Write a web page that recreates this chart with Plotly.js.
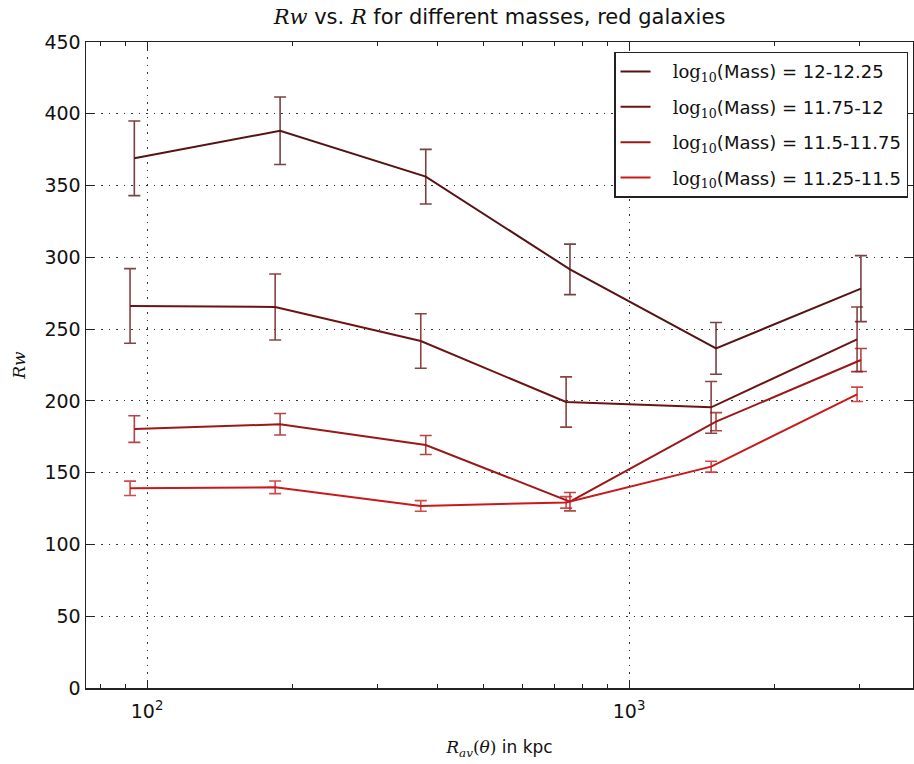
<!DOCTYPE html>
<html>
<head>
<meta charset="utf-8">
<script src="https://cdn.plot.ly/plotly-3.0.1.min.js"></script>
<style>html,body{margin:0;padding:0;background:#fff;}#chart{width:914px;height:764px;}</style>
</head>
<body>
<div id="chart"></div>
<script>
// Data
const seriesNames = ["12-12.25", "11.75-12", "11.5-11.75", "11.25-11.5"];
const xA = [94.1, 188.8, 378.6, 754, 1515, 3027];
const xB = [92.2, 184.4, 369.7, 740.3, 1480, 2972];
const rw1 = [369, 388.2, 356.2, 291.6, 236.6, 278.2];
const err1 = [26, 23.5, 19, 17.6, 18, 23];
const rw2 = [266.1, 265.4, 241.7, 199.2, 195.5, 242.9];
const err2 = [26, 23, 19, 17.5, 18, 22.5];
const rw3 = [180.4, 183.7, 169.3, 129.8, 185.5, 228.5];
const err3 = [9.3, 7.5, 6.6, 6.4, 6.3, 8];
const rw4 = [139.1, 139.8, 126.8, 129.3, 154.2, 204.6];
const err4 = [5, 4.4, 3.7, 4, 3.8, 5];
const colors = ["#561313", "#6c1414", "#9c1818", "#c81a1a"];
const errColors = ["rgba(86,19,19,0.8)", "rgba(108,20,20,0.8)", "rgba(156,24,24,0.8)", "rgba(200,26,26,0.8)"];
const xTickVals = [100, 1000];
const xTickText = ["10<sup>2</sup>", "10<sup>3</sup>"];
const xMinorVals = [80, 90, 200, 300, 400, 500, 600, 700, 800, 900, 2000, 3000];
const yTickVals = [0, 50, 100, 150, 200, 250, 300, 350, 400, 450];

const xs = [xA, xB, xA, xB];
const ys = [rw1, rw2, rw3, rw4];
const es = [err1, err2, err3, err4];

const serif = "DejaVu Serif";
const mathLog = '<span style="font-family:DejaVu Serif">log<sub>10</sub></span>';

const traces = seriesNames.map((n, i) => ({
  type: "scatter",
  mode: "lines",
  x: xs[i],
  y: ys[i],
  name: "\u00a0\u00a0\u00a0" + mathLog + "(Mass) = " + n,
  legendgroup: "g" + i,
  line: {color: colors[i], width: 2},
  error_y: {type: "data", array: es[i], visible: true, color: errColors[i], thickness: 1.6, width: 6}
}));

const layout = {
  width: 914,
  height: 764,
  margin: {l: 86, r: 1, t: 42, b: 76},
  paper_bgcolor: "#ffffff",
  plot_bgcolor: "#ffffff",
  font: {family: "DejaVu Sans", size: 18, color: "#111"},
  title: {
    text: '<i><span style="font-family:DejaVu Serif">Rw</span></i> vs. <i><span style="font-family:DejaVu Serif">R</span></i> for different masses, red galaxies',
    font: {family: "DejaVu Sans", size: 21, color: "#111"},
    x: 0.5465, xanchor: "center", y: 0.978, yanchor: "middle"
  },
  xaxis: {
    type: "log",
    range: [Math.log10(74.7), Math.log10(3882)],
    tickmode: "array",
    tickvals: xTickVals,
    ticktext: xTickText,
    ticks: "inside",
    ticklen: 8,
    tickwidth: 1,
    tickcolor: "#222",
    ticklabelstandoff: 6,
    showline: true,
    linecolor: "#222",
    linewidth: 1.5,
    mirror: "allticks",
    showgrid: true,
    gridcolor: "#333",
    griddash: "1.5px,6px",
    gridwidth: 1,
    zeroline: false,
    tickfont: {size: 19},
    minor: {tickmode: "array", tickvals: xMinorVals, ticks: "inside", ticklen: 4, tickcolor: "#222", showgrid: false},
    title: {
      text: '<i><span style="font-family:DejaVu Serif">R<sub>av</sub></span></i><span style="font-family:DejaVu Serif">(<i>θ</i>)</span> in kpc',
      font: {size: 17},
      standoff: 20
    }
  },
  yaxis: {
    range: [0, 450],
    tickmode: "array",
    tickvals: yTickVals,
    ticks: "inside",
    ticklen: 8,
    tickcolor: "#222",
    showline: true,
    linecolor: "#222",
    linewidth: 1.5,
    mirror: "allticks",
    showgrid: true,
    gridcolor: "#333",
    griddash: "1.5px,6px",
    gridwidth: 1,
    zeroline: false,
    tickfont: {size: 19},
    title: {
      text: '<i>Rw</i>',
      font: {family: serif, size: 17},
      standoff: 14
    }
  },
  legend: {
    x: 0.994, xanchor: "right",
    y: 0.985, yanchor: "top",
    bgcolor: "#ffffff",
    bordercolor: "#222",
    borderwidth: 1.5,
    font: {size: 18, color: "#111"},
    tracegroupgap: 9,
    itemwidth: 30
  },
  showlegend: true
};

Plotly.newPlot("chart", traces, layout, {displayModeBar: false, staticPlot: true});
</script>
</body>
</html>
